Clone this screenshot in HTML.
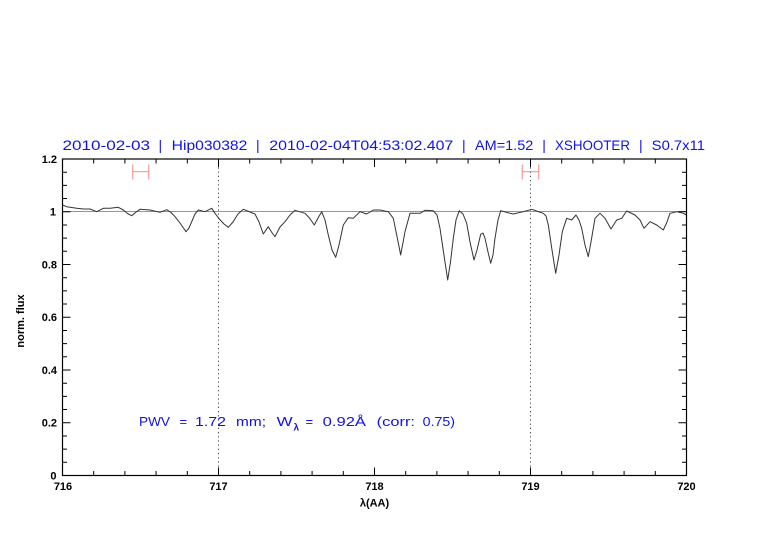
<!DOCTYPE html>
<html>
<head>
<meta charset="utf-8">
<style>
html,body{margin:0;padding:0;background:#fff;}
svg{display:block;}
text{font-family:"Liberation Sans",sans-serif;}
</style>
</head>
<body>
<svg width="782" height="542" viewBox="0 0 782 542" xmlns="http://www.w3.org/2000/svg">
<rect width="782" height="542" fill="#fff"/>

<!-- title -->
<g fill="#1010f0" font-size="14">
<text x="62.5" y="150" textLength="87.5" lengthAdjust="spacingAndGlyphs">2010-02-03</text>
<text x="158.5" y="150">|</text>
<text x="171.7" y="150" textLength="75.6" lengthAdjust="spacingAndGlyphs">Hip030382</text>
<text x="256" y="150">|</text>
<text x="269.3" y="150" textLength="184" lengthAdjust="spacingAndGlyphs">2010-02-04T04:53:02.407</text>
<text x="462" y="150">|</text>
<text x="475" y="150" textLength="58.3" lengthAdjust="spacingAndGlyphs">AM=1.52</text>
<text x="542.3" y="150">|</text>
<text x="555" y="150" textLength="75" lengthAdjust="spacingAndGlyphs">XSHOOTER</text>
<text x="639" y="150">|</text>
<text x="651.7" y="150" textLength="53.3" lengthAdjust="spacingAndGlyphs">S0.7x11</text>
</g>

<!-- red marker bars -->
<g stroke="#f59a9a" stroke-width="1.2" fill="none">
<path d="M132.7 164.5V179.5M148.7 164.5V179.5M132.7 171.7H148.7"/>
<path d="M522.3 164.5V179.5M538.7 164.5V179.5M522.3 171.7H538.7"/>
</g>

<!-- dotted verticals -->
<g stroke="#444" stroke-width="1" stroke-dasharray="1.2,3" fill="none">
<path d="M218.5 159V475.5M530.5 159V475.5"/>
</g>

<!-- continuum line at 1 -->
<path d="M62.5 211.5H686.5" stroke="#f07070" stroke-width="1" fill="none"/>

<!-- spectrum -->
<polyline fill="none" stroke="#333" stroke-width="1" stroke-linejoin="round" points="
62.5,205 66.7,206.7 76.7,208.3 83.3,209 90,209 96.7,211.7 103.3,208.3 110,208.3 118.3,207.3 123.3,210 127.5,213.5 131.7,215.7 135.5,212.5 140,209.3 150,210 160,212.3 166.7,209.7 171,212.5 175,216.7 180,223 186,231.7 189,228 191.7,221.7 195,214 198.3,210 205,211.7 211.7,208.3 215,213.3 219.3,219 224,224 228.3,227.3 233,222 238,214 243.3,209.3 250,212 255,214 259,222 263.3,234 268.3,226.7 271.5,232 275,236.7 280,227 285,221.7 290,215 295,210.3 305,213.3 309.5,218 314.3,225 318,218 321.7,211.7 325,220 328.3,235 332,250 335.7,257.3 339,245 343.3,225 348.3,217.7 353.3,218.3 360,211.7 366.7,214 373.3,210 380,210 388.3,211.7 393.3,218.3 396.7,235 400.7,255 405,231.7 410,213.3 420,213.3 425,210.3 433.3,210.7 437,215 440,228.3 443.5,252 447.7,280 450.5,262 453.3,238.3 456,220 459.3,210.7 463,214 466.7,223.3 470,242 474,260 477,250 480.7,234.3 483,233 485,238.3 488,252 490.7,263.3 493,255 495,238.3 498,220 500.7,210.7 507,212.5 513.3,214 523.3,211.7 531.7,209.3 538,211.5 543.3,213.3 546,216 548.3,225 552,250 555.7,273.3 559,255 562.3,231.7 566.7,218.3 571.7,220 576,215 579,220 581.7,228.3 585,245 588.3,256.7 591,242 595,218.3 600,213.3 605,218.3 611,229 616.7,220 621.7,218.3 626.7,211 635,215 640,220 644,228.3 650,221.7 656.7,225 663.3,230 667,222 670,213.3 676.7,211.7 683.3,213.3 686.5,215"/>

<!-- frame -->
<rect x="62.5" y="159" width="624" height="316.5" fill="none" stroke="#000" stroke-width="1.2"/>

<!-- ticks -->
<g stroke="#000" stroke-width="1" fill="none">
<!-- x bottom -->
<path d="M62.5 475.5V467.5M93.7 475.5V471M124.9 475.5V471M156.1 475.5V471M187.3 475.5V471M218.5 475.5V467.5M249.7 475.5V471M280.9 475.5V471M312.1 475.5V471M343.3 475.5V471M374.5 475.5V467.5M405.7 475.5V471M436.9 475.5V471M468.1 475.5V471M499.3 475.5V471M530.5 475.5V467.5M561.7 475.5V471M592.9 475.5V471M624.1 475.5V471M655.3 475.5V471M686.5 475.5V467.5"/>
<!-- x top -->
<path d="M62.5 159V167M93.7 159V163.5M124.9 159V163.5M156.1 159V163.5M187.3 159V163.5M218.5 159V167M249.7 159V163.5M280.9 159V163.5M312.1 159V163.5M343.3 159V163.5M374.5 159V167M405.7 159V163.5M436.9 159V163.5M468.1 159V163.5M499.3 159V163.5M530.5 159V167M561.7 159V163.5M592.9 159V163.5M624.1 159V163.5M655.3 159V163.5M686.5 159V167"/>
<!-- y left -->
<path d="M62.5 475.5H70.5M62.5 462.31H67M62.5 449.13H67M62.5 435.94H67M62.5 422.75H70.5M62.5 409.56H67M62.5 396.38H67M62.5 383.19H67M62.5 370H70.5M62.5 356.81H67M62.5 343.63H67M62.5 330.44H67M62.5 317.25H70.5M62.5 304.06H67M62.5 290.88H67M62.5 277.69H67M62.5 264.5H70.5M62.5 251.31H67M62.5 238.13H67M62.5 224.94H67M62.5 211.75H70.5M62.5 198.56H67M62.5 185.38H67M62.5 172.19H67M62.5 159H70.5"/>
<!-- y right -->
<path d="M686.5 475.5H678.5M686.5 462.31H682M686.5 449.13H682M686.5 435.94H682M686.5 422.75H678.5M686.5 409.56H682M686.5 396.38H682M686.5 383.19H682M686.5 370H678.5M686.5 356.81H682M686.5 343.63H682M686.5 330.44H682M686.5 317.25H678.5M686.5 304.06H682M686.5 290.88H682M686.5 277.69H682M686.5 264.5H678.5M686.5 251.31H682M686.5 238.13H682M686.5 224.94H682M686.5 211.75H678.5M686.5 198.56H682M686.5 185.38H682M686.5 172.19H682M686.5 159H678.5"/>
</g>

<!-- tick labels -->
<g fill="#000" font-size="11" font-weight="bold" text-anchor="middle">
<text x="63" y="490">716</text>
<text x="218.5" y="490">717</text>
<text x="374.5" y="490">718</text>
<text x="530.5" y="490">719</text>
<text x="686.5" y="490">720</text>
</g>
<g fill="#000" font-size="11" font-weight="bold" text-anchor="end">
<text x="56.5" y="479.5">0</text>
<text x="57" y="426.5">0.2</text>
<text x="57" y="374">0.4</text>
<text x="57" y="321">0.6</text>
<text x="57" y="268.5">0.8</text>
<text x="56" y="215.5">1</text>
<text x="57" y="163">1.2</text>
</g>

<!-- axis titles -->
<text x="374.5" y="506.5" font-size="11" font-weight="bold" text-anchor="middle" fill="#000">λ(AA)</text>
<text transform="translate(24,321) rotate(-90)" font-size="11" font-weight="bold" text-anchor="middle" fill="#000">norm. flux</text>

<!-- PWV annotation -->
<g fill="#1010f0" font-size="13">
<text x="139" y="426" textLength="31" lengthAdjust="spacingAndGlyphs">PWV</text>
<text x="179.5" y="426">=</text>
<text x="195" y="426" textLength="31" lengthAdjust="spacingAndGlyphs">1.72</text>
<text x="236" y="426" textLength="30" lengthAdjust="spacingAndGlyphs">mm;</text>
<text x="276.7" y="426" textLength="16" lengthAdjust="spacingAndGlyphs">W</text>
<text x="293.5" y="430.5" font-size="10" font-weight="bold">λ</text>
<text x="305.5" y="426">=</text>
<text x="322.7" y="426" textLength="43.3" lengthAdjust="spacingAndGlyphs">0.92Å</text>
<text x="376.7" y="426" textLength="38.3" lengthAdjust="spacingAndGlyphs">(corr:</text>
<text x="422.7" y="426" textLength="32.3" lengthAdjust="spacingAndGlyphs">0.75)</text>
</g>
</svg>
</body>
</html>
